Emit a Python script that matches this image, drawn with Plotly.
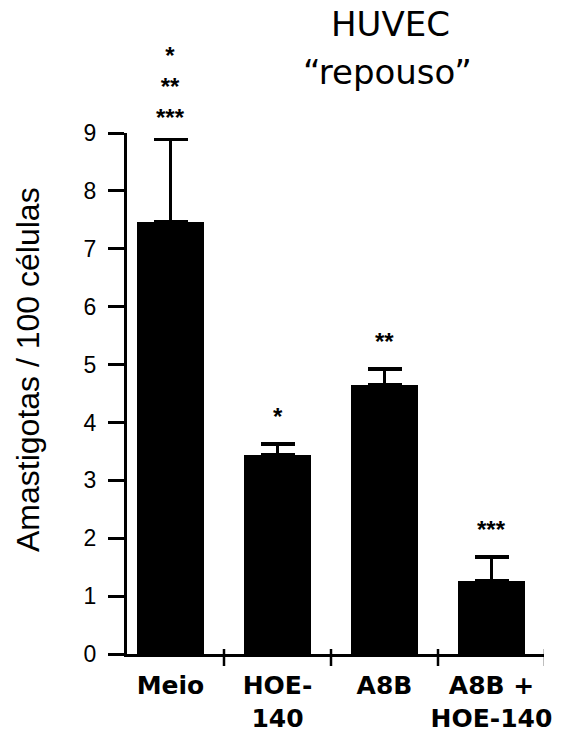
import plotly.graph_objects as go

# Amastigotes per 100 cells in resting HUVEC, mean + SEM
categories = ["Meio", "HOE-<br>140", "A8B", "A8B +<br>HOE-140"]
means = [7.46, 3.44, 4.65, 1.26]
sem = [1.43, 0.19, 0.27, 0.42]
significance = ["*<br>**<br>***", "*", "**", "***"]
y_ticks = [0, 1, 2, 3, 4, 5, 6, 7, 8, 9]

W, H = 583, 736
M_L, M_R, M_T, M_B = 127, 39, 133, 82
plot_w = W - M_L - M_R
plot_h = H - M_T - M_B

x = list(range(len(categories)))

fig = go.Figure(
    go.Bar(
        x=x,
        y=means,
        width=0.626,
        marker=dict(color="black", line=dict(width=0)),
        error_y=dict(
            type="data",
            symmetric=False,
            array=sem,
            arrayminus=[0] * len(sem),
            color="black",
            thickness=3.5,
            width=17,
        ),
    )
)

arial = "Liberation Sans, Arial, sans-serif"
comic = "Comic Sans MS, DejaVu Sans, sans-serif"

# significance marks above each error bar
for xi, m, e, s in zip(x, means, sem, significance):
    multi = "<br>" in s
    fig.add_annotation(
        x=xi, y=m + e, xref="x", yref="y", text=s, showarrow=False,
        yanchor="bottom", yshift=6 if multi else 12,
        font=dict(family=arial, size=24, color="black", weight="bold"),
    )

# crossing tick marks between categories on the x axis
for i in range(len(categories)):
    fig.add_shape(
        type="line", xref="x", yref="paper",
        x0=i + 0.5, x1=i + 0.5, y0=-12 / plot_h, y1=5 / plot_h,
        line=dict(color="black", width=2.5),
    )

# y axis title
fig.add_annotation(
    text="Amastigotas / 100 células", textangle=-90, showarrow=False,
    xref="paper", yref="paper",
    x=(28 - M_L) / plot_w, y=(654 - 370) / plot_h,
    xanchor="center", yanchor="middle",
    font=dict(family=arial, size=32, color="black"),
)

# title
fig.add_annotation(
    text="HUVEC", showarrow=False, xref="paper", yref="paper",
    x=(390 - M_L) / plot_w, y=(654 - 24) / plot_h,
    xanchor="center", yanchor="middle",
    font=dict(family=comic, size=34, color="black"),
)
fig.add_annotation(
    text="\u201crepouso\u201d", showarrow=False, xref="paper", yref="paper",
    x=(387 - M_L) / plot_w, y=(654 - 72) / plot_h,
    xanchor="center", yanchor="middle",
    font=dict(family=comic, size=34, color="black"),
)

fig.update_layout(
    width=W, height=H,
    margin=dict(l=M_L, r=M_R, t=M_T, b=M_B, pad=0, autoexpand=False),
    paper_bgcolor="white", plot_bgcolor="white",
    showlegend=False,
    bargap=0,
    xaxis=dict(
        range=[-0.4065, 3.4907],
        tickvals=x, ticktext=categories,
        ticks="", showgrid=False, zeroline=False,
        showline=True, linecolor="black", linewidth=3,
        tickfont=dict(family=comic, size=25, color="black", weight="bold"),
        ticklabelstandoff=7, automargin=False,
    ),
    yaxis=dict(
        range=[0, 9],
        tickvals=y_ticks,
        ticks="outside", ticklen=16, tickwidth=3, tickcolor="black",
        showgrid=False, zeroline=False,
        showline=True, linecolor="black", linewidth=3,
        tickfont=dict(family=arial, size=23, color="black"),
        ticklabelstandoff=7, automargin=False,
    ),
)

fig.write_html("out.html")
